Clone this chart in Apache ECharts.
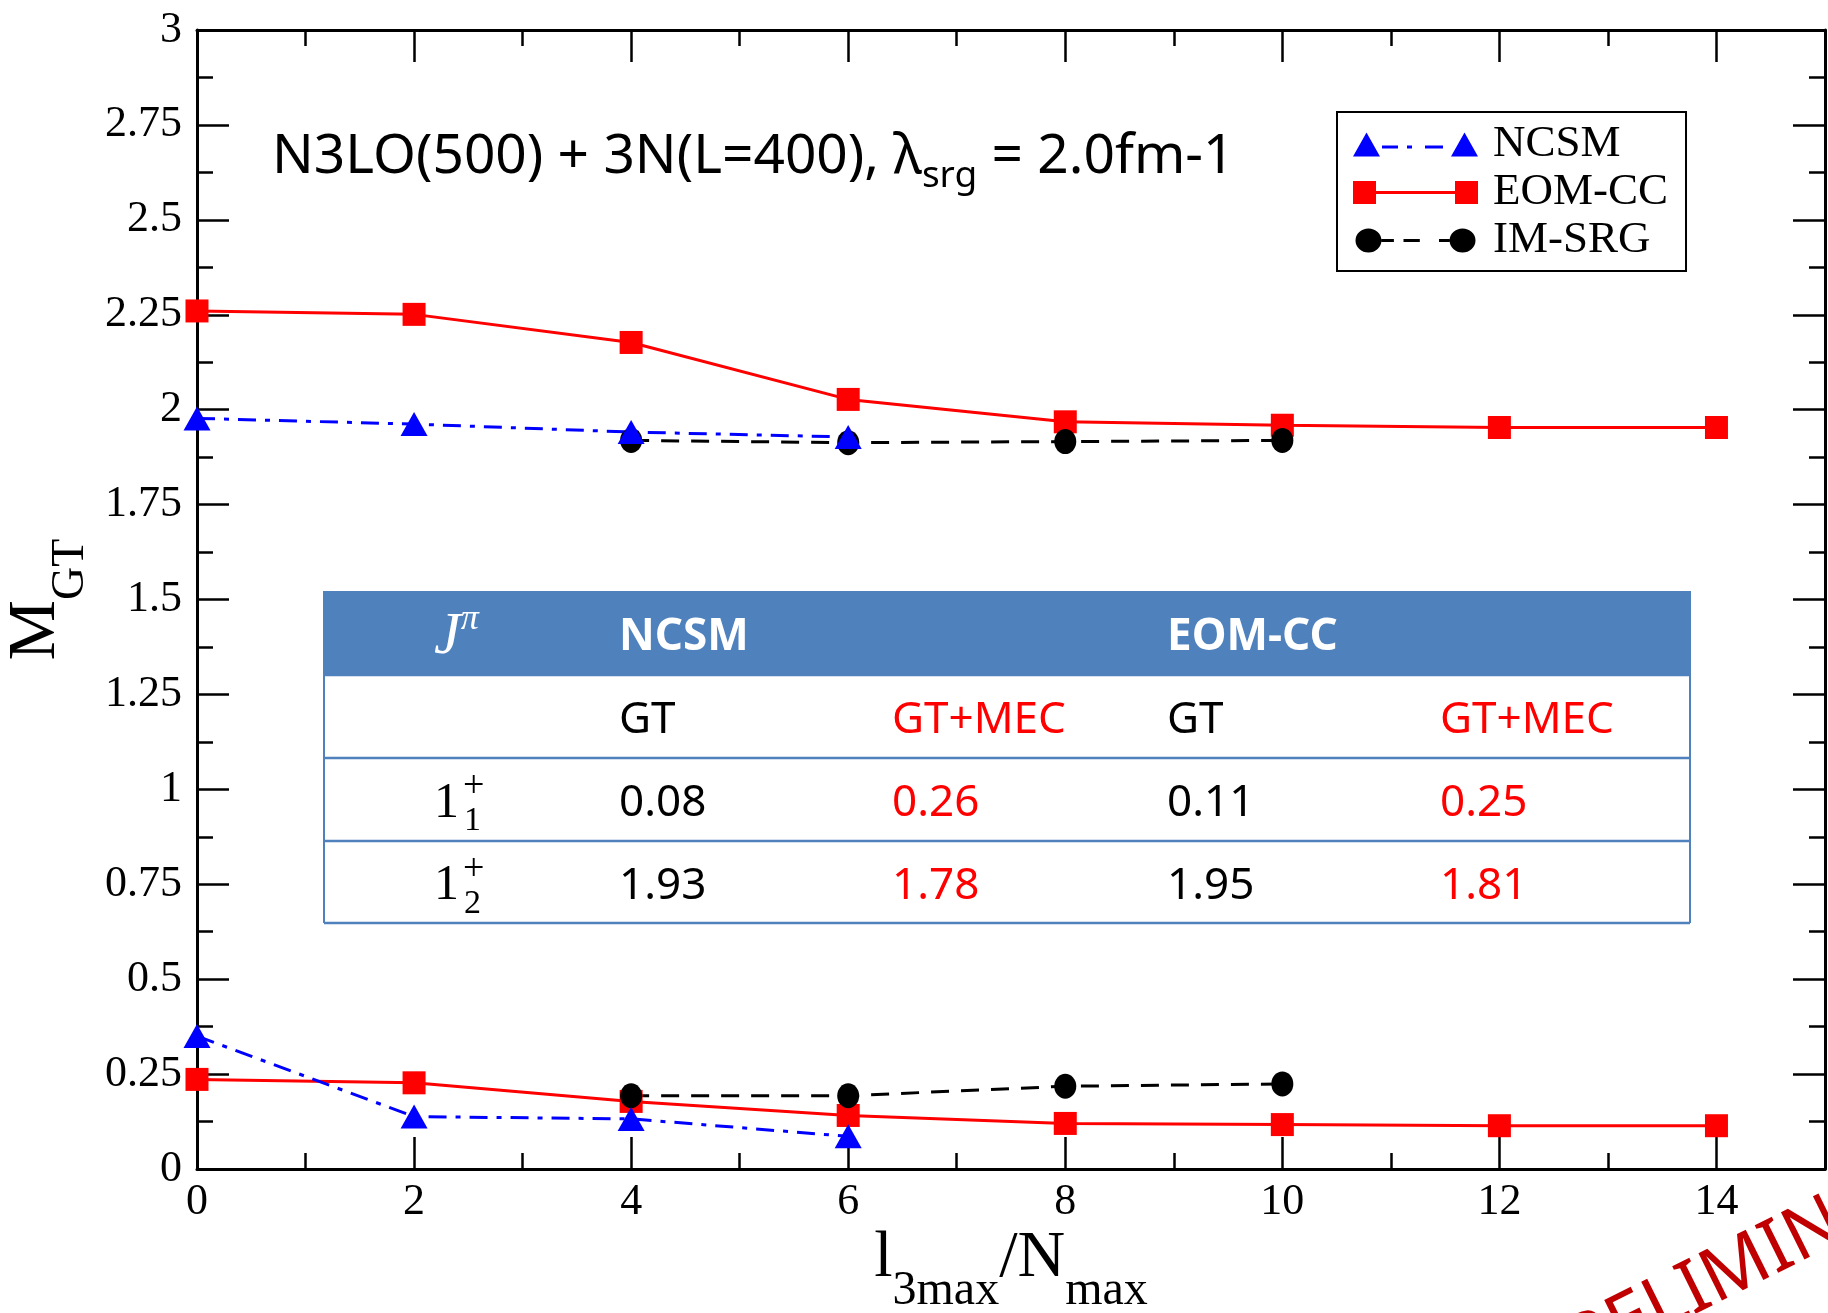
<!DOCTYPE html>
<html>
<head>
<meta charset="utf-8">
<script src="https://cdn.jsdelivr.net/npm/echarts@6/dist/echarts.min.js"></script>
<style>
html,body{margin:0;padding:0;background:#fff;}
#main{width:1828px;height:1313px;}
</style>
</head>
<body>
<div id="main"></div>
<script>
// ---- data ----
const xNCSM = [0, 2, 4, 6];
const ncsmUpper = [1.977, 1.962, 1.941, 1.928];
const ncsmLower = [0.35, 0.138, 0.132, 0.086];
const xEOM = [0, 2, 4, 6, 8, 10, 12, 14];
const eomUpper = [2.26, 2.251, 2.177, 2.027, 1.968, 1.959, 1.953, 1.953];
const eomLower = [0.236, 0.227, 0.178, 0.141, 0.120, 0.117, 0.114, 0.114];
const xIMSRG = [4, 6, 8, 10];
const imsrgUpper = [1.919, 1.913, 1.916, 1.919];
const imsrgLower = [0.193, 0.193, 0.218, 0.224];
const legendNames = ['NCSM', 'EOM-CC', 'IM-SRG'];
const titleMain = 'N3LO(500) + 3N(L=400), λ';
const titleSub = 'srg';
const titleTail = ' = 2.0fm-1';
const tableHeader = ['NCSM', 'EOM-CC'];
const tableColumns = ['GT', 'GT+MEC', 'GT', 'GT+MEC'];
const tableStates = [['1', '+', '1'], ['1', '+', '2']];
const tableValues = [['0.08', '0.26', '0.11', '0.25'], ['1.93', '1.78', '1.95', '1.81']];
const watermark = 'PRELIMINARY';

function pairs(xs, ys) { return xs.map((x, i) => [x, ys[i]]); }

const SERIF = 'Liberation Serif';
const SANS = 'Noto Sans';
const BLUE = '#0000ff', RED = '#ff0000', BLACK = '#000000';
const TBL = '#4f81bd';

// legend icons (symbol-line-symbol glyphs)
const iconNCSM = 'path://M0,24L13.5,0L27,24Z M29,13H45V16H29Z M54,13H59V16H54Z M72,13H90V16H72Z M98,24L111.5,0L125,24Z';
const iconEOM = 'path://M0,0H23V23H0Z M23,10H102V13H23Z M102,0H125V23H102Z';
const iconIM = 'path://M0,12.5A13.5,12.5,0,1,0,27,12.5A13.5,12.5,0,1,0,0,12.5Z M27,11H40V14H27Z M50,11H67V14H50Z M87,11H98V14H87Z M98,12.5A13.5,12.5,0,1,0,125,12.5A13.5,12.5,0,1,0,98,12.5Z';

const chart = echarts.init(document.getElementById('main'), null, {renderer: 'canvas'});

const axisLineStyle = {color: BLACK, width: 3};
const tickStyle = {color: BLACK, width: 2.5};

// table graphic
const T = {x0: 324, x1: 1690, rows: [591, 675, 758, 841, 923], cols: [619, 892, 1167, 1440], labelX: 434, dy: 4};
const g = [];
g.push({type: 'rect', shape: {x: T.x0, y: T.rows[0], width: T.x1 - T.x0, height: T.rows[4] - T.rows[0]}, style: {fill: '#fff'}, z: 50});
g.push({type: 'rect', shape: {x: T.x0, y: T.rows[0], width: T.x1 - T.x0, height: T.rows[1] - T.rows[0]}, style: {fill: TBL}, z: 51});
for (let i = 1; i < T.rows.length; i++) {
  g.push({type: 'line', shape: {x1: T.x0, y1: T.rows[i], x2: T.x1, y2: T.rows[i]}, style: {stroke: TBL, lineWidth: 2.5}, z: 52});
}
[T.x0, T.x1].forEach(x => g.push({type: 'line', shape: {x1: x, y1: T.rows[0], x2: x, y2: T.rows[4]}, style: {stroke: TBL, lineWidth: 2}, z: 52}));
const rowC = i => (T.rows[i] + T.rows[i + 1]) / 2 + T.dy;
// header
g.push({type: 'text', x: T.labelX, y: rowC(0), z: 53, style: {
  text: '{j|J}{p|π}', verticalAlign: 'middle', align: 'left',
  rich: {j: {fontFamily: SERIF, fontStyle: 'italic', fontSize: 60, fill: '#fff', lineHeight: 64},
         p: {fontFamily: SERIF, fontStyle: 'italic', fontSize: 36, fill: '#fff', lineHeight: 64, padding: [0, 0, 34, 0]}}}});
g.push({type: 'text', x: T.cols[0], y: rowC(0), z: 53, style: {text: tableHeader[0], fontFamily: SANS, fontWeight: 'bold', fontSize: 44, fill: '#fff', verticalAlign: 'middle'}});
g.push({type: 'text', x: T.cols[2], y: rowC(0), z: 53, style: {text: tableHeader[1], fontFamily: SANS, fontWeight: 'bold', fontSize: 44, fill: '#fff', verticalAlign: 'middle'}});
// sub header
tableColumns.forEach((c, j) => g.push({type: 'text', x: T.cols[j], y: rowC(1), z: 53, style: {text: c, fontFamily: SANS, fontSize: 44, fill: j % 2 ? RED : BLACK, verticalAlign: 'middle'}}));
// values
tableValues.forEach((row, r) => {
  const cy = rowC(r + 2);
  const st = tableStates[r];
  g.push({type: 'text', x: T.labelX, y: cy, z: 53, style: {text: st[0], fontFamily: SERIF, fontSize: 50, fill: BLACK, verticalAlign: 'middle'}});
  g.push({type: 'text', x: T.labelX + 29, y: cy - 16, z: 53, style: {text: st[1], fontFamily: SERIF, fontSize: 38, fill: BLACK, verticalAlign: 'middle'}});
  g.push({type: 'text', x: T.labelX + 30, y: cy + 18, z: 53, style: {text: st[2], fontFamily: SERIF, fontSize: 34, fill: BLACK, verticalAlign: 'middle'}});
  row.forEach((v, j) => g.push({type: 'text', x: T.cols[j], y: cy, z: 53, style: {text: v, fontFamily: SANS, fontSize: 44, fill: j % 2 ? RED : BLACK, verticalAlign: 'middle'}}));
});
// title
g.push({type: 'text', x: 272, y: 157, z: 40, style: {
  text: '{n|' + titleMain + '}{s|' + titleSub + '}{n|' + titleTail + '}', verticalAlign: 'middle', align: 'left',
  rich: {n: {fontFamily: SANS, fontSize: 55, fill: BLACK, lineHeight: 72},
         s: {fontFamily: SANS, fontSize: 37, fill: BLACK, lineHeight: 72, padding: [38, 0, 0, 0]}}}});
// watermark
g.push({type: 'text', x: 1547, y: 1405, rotation: 0.46, z: 60, style: {text: watermark, fontFamily: SANS, fontSize: 74, fill: '#c00000', verticalAlign: 'bottom', align: 'left'}});

const lineSeries = (name, data, color, lineType, symbol, size) => ({
  name, type: 'line', data, xAxisIndex: 0, yAxisIndex: 0,
  symbol, symbolSize: size, showSymbol: true,
  lineStyle: {color, width: 3, type: lineType},
  itemStyle: {color, borderWidth: 0},
  emphasis: {disabled: true}, animation: false, z: 5
});

const option = {
  animation: false,
  backgroundColor: '#fff',
  grid: {left: 197, right: 3, top: 30, bottom: 144, containLabel: false, outerBoundsMode: 'none'},
  legend: {
    show: true, orient: 'vertical', left: 1337, top: 112,
    padding: [10, 18, 8, 16], itemGap: 3, itemWidth: 125, itemHeight: 24,
    backgroundColor: '#fff', borderColor: BLACK, borderWidth: 2, borderRadius: 0,
    selectedMode: false, z: 30,
    textStyle: {fontFamily: SERIF, fontSize: 45, color: BLACK, lineHeight: 34, padding: [0, 0, 0, 10]},
    data: [
      {name: legendNames[0], icon: iconNCSM},
      {name: legendNames[1], icon: iconEOM},
      {name: legendNames[2], icon: iconIM}
    ]
  },
  xAxis: [
    {type: 'value', position: 'bottom', min: 0, max: 15, interval: 2,
     axisLine: {show: true, lineStyle: axisLineStyle, onZero: false},
     axisTick: {show: true, inside: true, length: 32, lineStyle: tickStyle},
     axisLabel: {show: true, margin: 11, fontFamily: SERIF, fontSize: 44, color: BLACK, showMaxLabel: false,
                 formatter: v => (v > 14 ? '' : String(v))},
     splitLine: {show: false},
     name: '{n|l}{s|3max}{n|/N}{s|max}', nameLocation: 'middle', nameGap: 50, nameMoveOverlap: false,
     nameTextStyle: {rich: {n: {fontFamily: SERIF, fontSize: 66, color: BLACK, lineHeight: 80},
                            s: {fontFamily: SERIF, fontSize: 48, color: BLACK, lineHeight: 80, padding: [64, 0, 0, 0]}}}},
    {type: 'value', position: 'bottom', min: 0, max: 15, interval: 1,
     axisLine: {show: false, onZero: false}, axisTick: {show: true, inside: true, length: 16, lineStyle: tickStyle},
     axisLabel: {show: false}, splitLine: {show: false}},
    {type: 'value', position: 'top', min: 0, max: 15, interval: 2,
     axisLine: {show: true, lineStyle: axisLineStyle, onZero: false}, axisTick: {show: true, inside: true, length: 32, lineStyle: tickStyle},
     axisLabel: {show: false}, splitLine: {show: false}},
    {type: 'value', position: 'top', min: 0, max: 15, interval: 1,
     axisLine: {show: false, onZero: false}, axisTick: {show: true, inside: true, length: 16, lineStyle: tickStyle},
     axisLabel: {show: false}, splitLine: {show: false}}
  ],
  yAxis: [
    {type: 'value', position: 'left', min: 0, max: 3, interval: 0.25,
     axisLine: {show: true, lineStyle: axisLineStyle, onZero: false},
     axisTick: {show: true, inside: true, length: 32, lineStyle: tickStyle},
     minorTick: {show: true, splitNumber: 2, length: 16, lineStyle: tickStyle},
     axisLabel: {show: true, margin: 15, fontFamily: SERIF, fontSize: 44, color: BLACK},
     splitLine: {show: false}, minorSplitLine: {show: false},
     name: '{n|M}{s|GT}', nameLocation: 'middle', nameGap: 108, nameRotate: 90,
     nameTextStyle: {rich: {n: {fontFamily: SERIF, fontSize: 68, color: BLACK, lineHeight: 80},
                            s: {fontFamily: SERIF, fontSize: 46, color: BLACK, lineHeight: 80, padding: [70, 0, 0, 0]}}}},
    {type: 'value', position: 'right', min: 0, max: 3, interval: 0.25,
     axisLine: {show: true, lineStyle: axisLineStyle, onZero: false},
     axisTick: {show: true, inside: true, length: 32, lineStyle: tickStyle},
     minorTick: {show: true, splitNumber: 2, length: 16, lineStyle: tickStyle},
     axisLabel: {show: false}, splitLine: {show: false}, minorSplitLine: {show: false}}
  ],
  series: [
    lineSeries('EOM-CC', pairs(xEOM, eomUpper), RED, 'solid', 'rect', 23),
    lineSeries('EOM-CC', pairs(xEOM, eomLower), RED, 'solid', 'rect', 23),
    lineSeries('IM-SRG', pairs(xIMSRG, imsrgUpper), BLACK, [18, 12], 'circle', [22, 25]),
    lineSeries('IM-SRG', pairs(xIMSRG, imsrgLower), BLACK, [18, 12], 'circle', [22, 25]),
    lineSeries('NCSM', pairs(xNCSM, ncsmUpper), BLUE, [18, 9, 5, 9], 'triangle', [27, 24]),
    lineSeries('NCSM', pairs(xNCSM, ncsmLower), BLUE, [18, 9, 5, 9], 'triangle', [27, 24])
  ],
  graphic: {elements: g}
};
chart.setOption(option);
</script>
</body>
</html>
